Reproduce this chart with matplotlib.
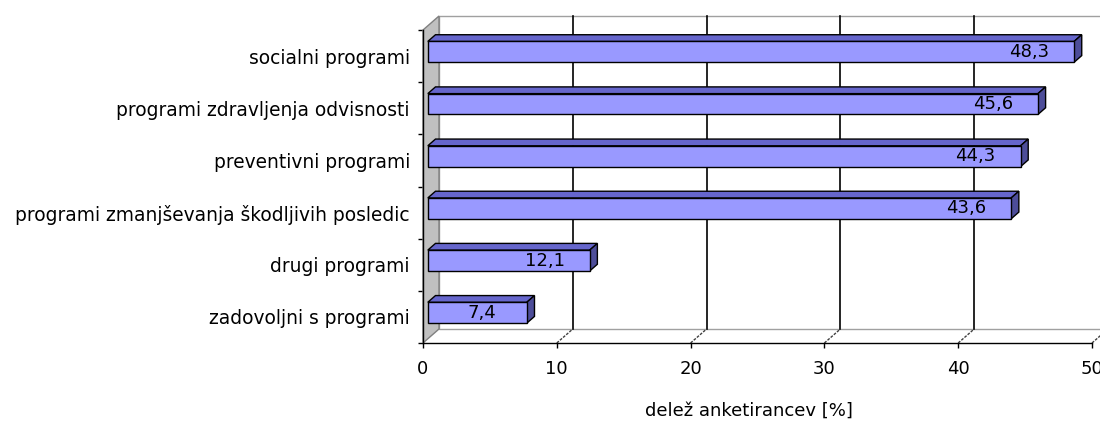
import matplotlib
matplotlib.use('Agg')
import matplotlib.pyplot as plt
from matplotlib.patches import Polygon
import numpy as np

# ---- data ----
categories = ["socialni programi",
              "programi zdravljenja odvisnosti",
              "preventivni programi",
              "programi zmanjševanja škodljivih posledic",
              "drugi programi",
              "zadovoljni s programi"]
values = [48.3, 45.6, 44.3, 43.6, 12.1, 7.4]
value_labels = ["48,3", "45,6", "44,3", "43,6", "12,1", "7,4"]
x_ticks = [0, 10, 20, 30, 40, 50]
x_tick_labels = ["0", "10", "20", "30", "40", "50"]
x_label = "delež anketirancev [%]"

# ---- layout / style ----
plt.rcParams['font.family'] = ['DejaVu Sans']
plt.rcParams['font.size'] = 13

W, H, DPI = 1100, 428, 100
fig = plt.figure(figsize=(W / DPI, H / DPI), dpi=DPI)
left_px, right_px, top_px, bottom_px = 423, 1092, 30, 343
ax = fig.add_axes([left_px / W, 1 - bottom_px / H,
                   (right_px - left_px) / W, (bottom_px - top_px) / H])
xmax = x_ticks[-1]
n = len(categories)
ax.set_xlim(0, xmax)
ax.set_ylim(n - 0.5, -0.5)

px_x = xmax / (right_px - left_px)
px_y = n / (bottom_px - top_px)
DEPTH = (16, 14)  # wall depth in px (right, up)


def off(x, y, f):
    return (x + f * DEPTH[0] * px_x, y - f * DEPTH[1] * px_y)


# back wall
bw = [off(0, -0.5, 1), off(xmax, -0.5, 1), off(xmax, n - 0.5, 1), off(0, n - 0.5, 1)]
ax.add_patch(Polygon(bw, closed=True, facecolor='white', edgecolor='#a0a0a0',
                     lw=1, clip_on=False, zorder=1))
# gridlines on back wall
for t in x_ticks[1:]:
    p0 = off(t, -0.5, 1)
    p1 = off(t, n - 0.5, 1)
    ax.plot([p0[0], p1[0]], [p0[1], p1[1]], color='black', lw=1.2,
            clip_on=False, zorder=2)
# floor depth lines
for t in x_ticks[1:]:
    p1 = off(t, n - 0.5, 1)
    ax.plot([t, p1[0]], [n - 0.5, p1[1]], color='#404040', lw=1,
            ls=(0, (2, 1)), clip_on=False, zorder=2)
# left wall
lw_pts = [(0, -0.5), off(0, -0.5, 1), off(0, n - 0.5, 1), (0, n - 0.5)]
ax.add_patch(Polygon(lw_pts, closed=True, facecolor='#c0c0c0', edgecolor='#808080',
                     lw=1, clip_on=False, zorder=2))

# bars
f0, f1 = 0.3, 0.78
h = 0.4
for i, v in enumerate(values):
    y0, y1 = i - h / 2, i + h / 2
    front = [off(0, y0, f0), off(v, y0, f0), off(v, y1, f0), off(0, y1, f0)]
    top = [off(0, y0, f0), off(v, y0, f0), off(v, y0, f1), off(0, y0, f1)]
    side = [off(v, y0, f0), off(v, y0, f1), off(v, y1, f1), off(v, y1, f0)]
    ax.add_patch(Polygon(top, closed=True, facecolor='#6666cc', edgecolor='black',
                         lw=1, clip_on=False, zorder=4))
    ax.add_patch(Polygon(side, closed=True, facecolor='#4d4d99', edgecolor='black',
                         lw=1, clip_on=False, zorder=4))
    ax.add_patch(Polygon(front, closed=True, facecolor='#9999ff', edgecolor='black',
                         lw=1, clip_on=False, zorder=5))
    ax.annotate(value_labels[i], xy=off(v, i, f0), xytext=(-45, 0),
                textcoords='offset pixels', ha='center', va='center',
                fontsize=13, color='black', zorder=6)

# axes styling
ax.set_facecolor('none')
for s in ['top', 'right']:
    ax.spines[s].set_visible(False)
for s in ['left', 'bottom']:
    ax.spines[s].set_color('black')
    ax.spines[s].set_linewidth(1)
    ax.spines[s].set_zorder(7)

ax.set_xticks(x_ticks)
ax.set_xticklabels(x_tick_labels)
ax.tick_params(axis='x', direction='out', length=3.6, width=1, pad=8.5, labelsize=13)

ax.set_yticks(np.arange(-0.5, n, 1.0))
ax.set_yticklabels([])
ax.tick_params(axis='y', which='major', direction='out', length=3.6, width=1)
ax.set_yticks(np.arange(n), minor=True)
ax.set_yticklabels(categories, minor=True)
ax.tick_params(axis='y', which='minor', length=0, pad=9.4, labelsize=13.4)

ax.set_xlabel(x_label, fontsize=13)
ax.xaxis.set_label_coords((749 - left_px) / (right_px - left_px),
                          -(402 - bottom_px) / (bottom_px - top_px))

fig.savefig('out.png', dpi=DPI)
